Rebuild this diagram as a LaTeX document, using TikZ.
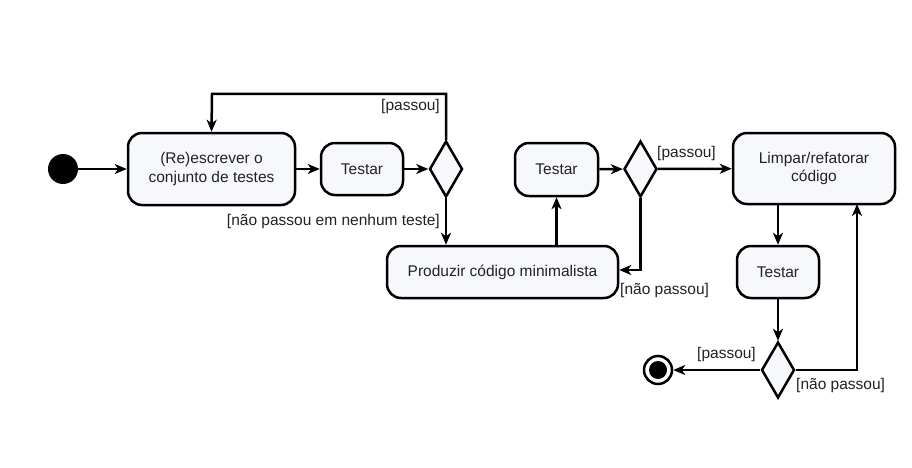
\documentclass[tikz,border=0pt]{standalone}
\usepackage{fontspec}
\setmainfont{Liberation Sans}
\usetikzlibrary{shapes.geometric,arrows.meta}
\definecolor{boxfill}{HTML}{F7F8FB}
\definecolor{txt}{HTML}{222222}
\begin{document}
\begin{tikzpicture}[x=1pt,y=-1pt,
  font=\fontsize{15.5}{18.5}\selectfont,
  every node/.append style={text=txt},
  act/.style={draw, line width=2.5pt, rounded corners=14pt, fill=boxfill, inner sep=0pt, align=center},
  dec/.style={draw, line width=2.5pt, diamond, aspect=0.59, fill=boxfill, inner sep=0pt, minimum width=33pt, minimum height=56pt},
  flow/.style={line width=2.5pt, -{Stealth[length=12pt,width=10pt,inset=3.5pt]}},
  guard/.style={inner sep=1pt}]
\useasboundingbox (0,0) rectangle (912,468);
\node[circle, fill=black, minimum size=30pt, inner sep=0pt] (start) at (63,169) {};
\node[act, minimum width=167pt, minimum height=72pt] (box1) at (211.5,169) {(Re)escrever o\\conjunto de testes};
\node[act, minimum width=82pt, minimum height=52pt] (t1) at (362,169) {Testar};
\node[dec] (d1) at (446,169) {};
\node[act, minimum width=231pt, minimum height=52pt] (prod) at (502.5,272) {Produzir código minimalista};
\node[act, minimum width=83pt, minimum height=53pt] (t2) at (556.5,169.5) {Testar};
\node[dec] (d2) at (640.5,169) {};
\node[act, minimum width=162pt, minimum height=71pt] (limpar) at (814,168.5) {Limpar/refatorar\\código};
\node[act, minimum width=82pt, minimum height=52pt] (t3) at (778,272) {Testar};
\node[dec] (d3) at (778,370) {};
\node[circle, draw, line width=2.5pt, fill=white, minimum size=28pt, inner sep=0pt] (end) at (658,370) {};
\node[circle, fill=black, minimum size=18pt, inner sep=0pt] at (end) {};
\coordinate (c1) at (212,94);
\coordinate (c2) at (857,204);

\draw[flow] (start) -- (box1);
\draw[flow] (box1) -- (t1);
\draw[flow] (t1) -- (d1);
\draw[flow] (d1.north) |- (c1) -- (box1.north);
\draw[flow] (d1.south) -- (d1.south |- prod.north);
\draw[flow] (t2.south |- prod.north) -- (t2.south);
\draw[flow] (t2) -- (d2);
\draw[flow] (d2) -- (limpar);
\draw[flow] (d2.south) |- ([yshift=2pt]prod.east);
\draw[flow] (t3.north |- limpar.south) -- (t3.north);
\draw[flow] (t3) -- (d3);
\draw[flow] (d3) -- (end);
\draw[flow] (d3.east) -| (c2);

\node[guard, anchor=east] (g1) at (441,106) {[passou]};
\node[guard, anchor=east] (g2) at (441,221) {[não passou em nenhum teste]};
\node[guard, anchor=west] (g3) at (656,153) {[passou]};
\node[guard, anchor=west] (g4) at (619,290) {[não passou]};
\node[guard, anchor=east] (g5) at (757,354) {[passou]};
\node[guard, anchor=west] (g6) at (795,385) {[não passou]};
\end{tikzpicture}
\end{document}
